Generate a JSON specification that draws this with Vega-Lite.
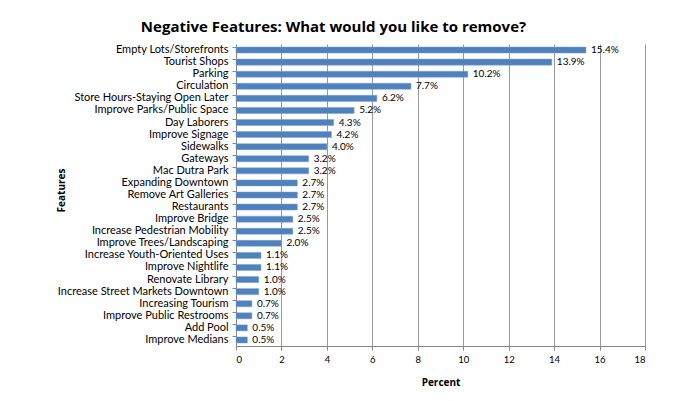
{
  "$schema": "https://vega.github.io/schema/vega-lite/v6.json",
  "width": 409,
  "height": 302,
  "autosize": "none",
  "padding": {"left": 236, "top": 44, "right": 28, "bottom": 55},
  "background": "white",
  "config": {
    "font": "Lato",
    "view": {"stroke": null}
  },
  "title": {
    "text": "Negative Features: What would you like to remove?",
    "font": "Open Sans",
    "fontSize": 15,
    "fontWeight": "bold",
    "color": "#000000",
    "anchor": "middle",
    "dx": -107,
    "offset": 9
  },
  "data": {
    "values": [
      {"feature": "Empty Lots/Storefronts", "pct": 15.4},
      {"feature": "Tourist Shops", "pct": 13.9},
      {"feature": "Parking", "pct": 10.2},
      {"feature": "Circulation", "pct": 7.7},
      {"feature": "Store Hours-Staying Open Later", "pct": 6.2},
      {"feature": "Improve Parks/Public Space", "pct": 5.2},
      {"feature": "Day Laborers", "pct": 4.3},
      {"feature": "Improve Signage", "pct": 4.2},
      {"feature": "Sidewalks", "pct": 4.0},
      {"feature": "Gateways", "pct": 3.2},
      {"feature": "Mac Dutra Park", "pct": 3.2},
      {"feature": "Expanding Downtown", "pct": 2.7},
      {"feature": "Remove Art Galleries", "pct": 2.7},
      {"feature": "Restaurants", "pct": 2.7},
      {"feature": "Improve Bridge", "pct": 2.5},
      {"feature": "Increase Pedestrian Mobility", "pct": 2.5},
      {"feature": "Improve Trees/Landscaping", "pct": 2.0},
      {"feature": "Increase Youth-Oriented Uses", "pct": 1.1},
      {"feature": "Improve Nightlife", "pct": 1.1},
      {"feature": "Renovate Library", "pct": 1.0},
      {"feature": "Increase Street Markets Downtown", "pct": 1.0},
      {"feature": "Increasing Tourism", "pct": 0.7},
      {"feature": "Improve Public Restrooms", "pct": 0.7},
      {"feature": "Add Pool", "pct": 0.5},
      {"feature": "Improve Medians", "pct": 0.5}
    ]
  },
  "transform": [
    {"calculate": "format(datum.pct, '.1f') + '%'", "as": "label"}
  ],
  "encoding": {
    "y": {
      "field": "feature",
      "type": "nominal",
      "sort": null,
      "scale": {"paddingInner": 0.5, "paddingOuter": 0.25},
      "axis": {
        "title": "Features",
        "titleFont": "Open Sans",
        "titleFontSize": 10,
        "titleFontWeight": "bold",
        "titleColor": "#000000",
        "titleX": -175,
        "titleY": 146,
        "titleAngle": -90,
        "titleAlign": "center",
        "titleBaseline": "middle",
        "labelFont": "Lato",
        "labelFontSize": 11,
        "labelColor": "#000000",
        "labelPadding": 4,
        "domainColor": "#868686",
        "tickColor": "#868686",
        "tickSize": 4,
        "bandPosition": 0,
        "labelBound": false
      }
    },
    "x": {
      "field": "pct",
      "type": "quantitative",
      "scale": {"domain": [0, 18], "nice": false},
      "axis": {
        "title": "Percent",
        "values": [0, 2, 4, 6, 8, 10, 12, 14, 16, 18],
        "titleFont": "Open Sans",
        "titleFontSize": 10,
        "titleFontWeight": "bold",
        "titleColor": "#000000",
        "titlePadding": 14,
        "labelFont": "Lato",
        "labelFontSize": 9.5,
        "labelColor": "#000000",
        "labelPadding": 4,
        "domainColor": "#868686",
        "tickColor": "#868686",
        "tickSize": 4,
        "grid": true,
        "gridColor": "#999999",
        "gridWidth": 1
      }
    }
  },
  "layer": [
    {
      "mark": {"type": "bar", "color": "#4F81BD", "stroke": "#7FA3D0", "strokeWidth": 0.5}
    },
    {
      "mark": {"type": "text", "align": "left", "baseline": "middle", "dx": 5, "font": "Lato", "fontSize": 10, "color": "#000000"},
      "encoding": {
        "text": {"field": "label", "type": "nominal"}
      }
    }
  ]
}
